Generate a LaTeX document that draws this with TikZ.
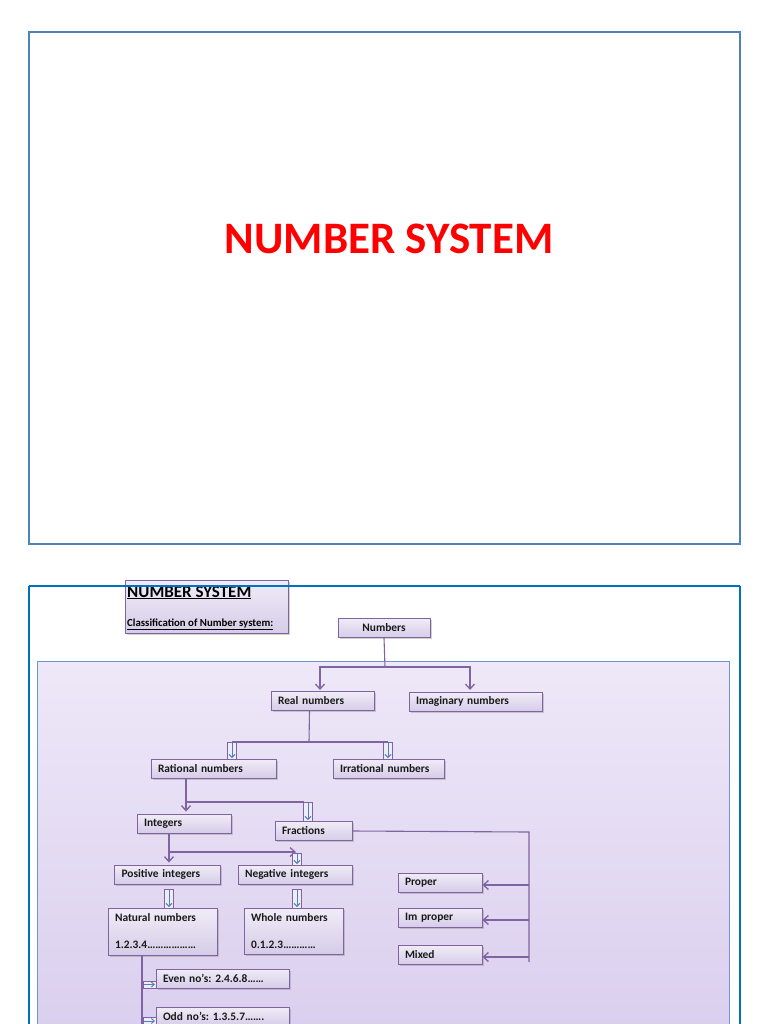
\documentclass[tikz,border=0pt]{standalone}
\usepackage{fontspec}
\setmainfont{Carlito}
\usetikzlibrary{shadows,arrows.meta,calc}
\definecolor{slideA}{RGB}{79,129,189}
\definecolor{slideB}{RGB}{0,112,192}
\definecolor{pline}{RGB}{128,100,162}
\definecolor{pfillT}{RGB}{240,236,247}
\definecolor{pfillB}{RGB}{214,204,232}
\definecolor{bgT}{RGB}{238,232,248}
\definecolor{bgB}{RGB}{218,206,238}
\definecolor{bgline}{RGB}{110,150,210}
\definecolor{barrow}{RGB}{79,129,189}
\definecolor{titlered}{RGB}{255,0,0}
\frenchspacing
\tikzset{
  box/.style={draw=pline, line width=0.9pt, top color=pfillT, bottom color=pfillB,
    drop shadow={shadow xshift=1.5pt, shadow yshift=-1.5pt, opacity=0.35},
    inner xsep=7pt, inner ysep=0pt, minimum height=19pt, text width=#1, align=left,
    font=\bfseries\fontsize{11.4}{13}\selectfont, text=black!90},
  conn/.style={draw=pline, line width=1.1pt},
  arr/.style={conn, -{Straight Barb[length=5pt,width=9pt,line width=1.3pt]}},
  blockdown/.pic={
    \draw[pline, fill=pfillT, line width=0.8pt] (-4.5,0) rectangle (4.5,#1);
    \draw[barrow, line width=0.9pt, -{Straight Barb[length=3pt,width=6pt]}] (0,1) -- (0,#1-1);
  },
  blockright/.pic={
    \draw[pline, fill=pfillT, line width=0.8pt] (0,-3.5) rectangle (13,3.5);
    \draw[barrow, line width=0.9pt, -{Straight Barb[length=3pt,width=5pt]}] (1,0) -- (12,0);
  },
}
\begin{document}
\begin{tikzpicture}[x=1pt,y=-1pt]
\useasboundingbox (0,0) rectangle (768,1024);
\fill[white] (0,0) rectangle (768,1024);

% ---- slide 1 ----
\draw[slideA, line width=2pt] (29,32) rectangle (740,544);
\node[font=\bfseries\fontsize{45}{50}\selectfont, text=titlered] (title) at (389,239) {NUMBER SYSTEM};

% ---- slide 2 ----
\begin{scope}
\clip (0,0) rectangle (768,1024);
\shade[top color=bgT, bottom color=bgB, draw=bgline, line width=0.8pt] (37,661) rectangle (729,1040);
\end{scope}

\node[draw=pline, line width=0.9pt, top color=pfillT, bottom color=pfillB,
  drop shadow={shadow xshift=1.5pt, shadow yshift=-1.5pt, opacity=0.35},
  minimum width=163pt, minimum height=53pt, anchor=north west, inner sep=0pt] (header) at (125,580) {};
\node[anchor=base west, inner sep=0pt, font=\bfseries\fontsize{17}{19}\selectfont] (htitle) at (127,597) {\underline{NUMBER SYSTEM}};
\node[anchor=base west, inner sep=0pt, font=\bfseries\fontsize{10.8}{13}\selectfont] (hsub) at (127,626) {\underline{Classification of Number system:}};

\draw[slideB, line width=2pt] (29,586) -- (740,586);
\draw[slideB, line width=2pt] (29,586) -- (29,1030);
\draw[slideB, line width=2pt] (740,586) -- (740,1030);

% nodes
\node[box=78pt, align=center] (numbers) at (384,628) {Numbers};
\node[box=89pt] (real) at (322.5,701) {Real numbers};
\node[box=119pt] (imag) at (475.5,701.5) {Imaginary numbers};
\node[box=111pt] (rational) at (213.5,768.5) {Rational numbers};
\node[box=97pt] (irrational) at (388.5,768.5) {Irrational numbers};
\node[box=80pt] (integers) at (184,823.5) {Integers};
\node[box=63pt] (fractions) at (313.5,831) {Fractions};
\node[box=92pt] (positive) at (167.5,874.5) {Positive integers};
\node[box=100pt] (negative) at (295,874.5) {Negative integers};
\node[box=95pt, minimum height=47pt, font=\bfseries\fontsize{11.4}{27}\selectfont] (natural) at (162.5,931.5) {Natural numbers\\1.2.3.4………………};
\node[box=85pt, minimum height=46pt, font=\bfseries\fontsize{11.4}{27}\selectfont] (whole) at (293.5,931) {Whole numbers\\0.1.2.3…………};
\node[box=70pt] (proper) at (440,882.5) {Proper};
\node[box=70pt] (improper) at (440,917.5) {Im proper};
\node[box=70pt] (mixed) at (440,955) {Mixed};
\node[box=119pt] (even) at (222.5,978.5) {Even no’s: 2.4.6.8……};
\node[box=119pt] (odd) at (222.5,1016.5) {Odd no’s: 1.3.5.7…….};

% connectors
\coordinate (nj) at (385,667);
\draw[conn] (numbers.south) -- (nj);
\draw[arr] (nj) -| (320,690);
\draw[arr] (nj) -| (470,690);

\coordinate (rj) at (309,742);
\draw[conn] ($(real.south)+(-13,0)$) -- (rj);
\draw[conn] (232,742) -- (388,742);
\pic at (232,742) {blockdown=17};
\pic at (388,742) {blockdown=17};

\draw[arr] ($(rational.south)+(-27.5,0)$) -- ($(integers.north)+(2,-2)$);
\draw[conn] (186,802) -- (304,802);
\pic at (308,802) {blockdown=19};

\draw[arr] ($(integers.south)+(-15,0)$) -- ($(positive.north)+(1.5,-2)$);
\draw[arr] (169,852) -- (296,852);
\pic at (297,853) {blockdown=12};

\pic at (169,889) {blockdown=19};
\pic at (297,889) {blockdown=19};

\coordinate (fj) at (529,832);
\draw[conn] (fractions.east) -- (fj) -- (529,962);
\draw[arr] (529,885) -- (proper.east |- 0,885);
\draw[arr] (529,920) -- (improper.east |- 0,920);
\draw[arr] (529,957) -- (mixed.east |- 0,957);

\draw[conn] ($(natural.south)+(-20.5,0)$) -- (142,1030);
\pic at (143,984.5) {blockright};
\pic at (143,1021) {blockright};
\end{tikzpicture}
\end{document}
